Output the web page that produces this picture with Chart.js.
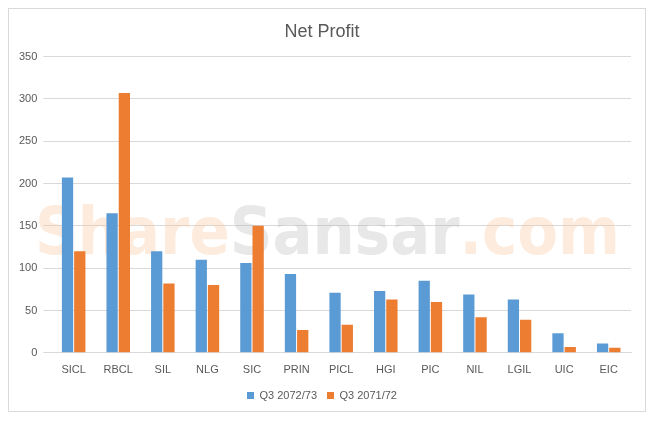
<!DOCTYPE html>
<html>
<head>
<meta charset="utf-8">
<script src="https://cdn.jsdelivr.net/npm/chart.js@4"></script>
<style>
  body { margin: 0; background: #fff; }
  #wrap { position: absolute; left: 8px; top: 8px; width: 636px; height: 402px; border: 1px solid #d9d9d9; }
</style>
</head>
<body>
<div id="wrap"><canvas id="myChart"></canvas></div>
<script>
const categories = ['SICL', 'RBCL', 'SIL', 'NLG', 'SIC', 'PRIN', 'PICL', 'HGI', 'PIC', 'NIL', 'LGIL', 'UIC', 'EIC'];
const q3_2072 = [207, 165, 120, 110, 106, 93, 71, 73, 85, 69, 63, 23, 11];
const q3_2071 = [120, 307, 82, 80, 150, 27, 33, 63, 60, 42, 39, 7, 6];

const watermark = {
    id: 'watermark',
    beforeDatasetsDraw(chart) {
        const ctx = chart.ctx;
        ctx.save();
        ctx.font = 'bold 66px "DejaVu Sans Condensed"';
        ctx.textBaseline = 'middle';
        const parts = [['Share', 'rgba(250, 200, 160, 0.35)'], ['Sansar', 'rgba(180, 180, 180, 0.3)'], ['.com', 'rgba(250, 200, 160, 0.35)']];
        let x = 26;
        parts.forEach(function (p) {
            ctx.fillStyle = p[1];
            ctx.fillText(p[0], x, 228);
            x += ctx.measureText(p[0]).width;
        });
        ctx.restore();
    }
};

new Chart(document.getElementById('myChart'), {
    type: 'bar',
    data: {
        labels: categories,
        datasets: [
            { label: 'Q3 2072/73', data: q3_2072, backgroundColor: '#5b9bd5' },
            { label: 'Q3 2071/72', data: q3_2071, backgroundColor: '#ed7d31' }
        ]
    },
    options: {
        responsive: true,
        maintainAspectRatio: false,
        animation: false,
        layout: { padding: { left: 4, right: 14, top: 4, bottom: 0 } },
        datasets: { bar: { categoryPercentage: 0.55, barPercentage: 0.92 } },
        plugins: {
            title: { display: true, text: 'Net Profit', color: '#595959', font: { size: 18, family: 'Liberation Sans', weight: 'normal' }, padding: { top: 8, bottom: 14 } },
            legend: { position: 'bottom', labels: { boxWidth: 7, boxHeight: 7, color: '#595959', font: { size: 11, family: 'Liberation Sans' } } },
            tooltip: { enabled: false }
        },
        scales: {
            x: {
                grid: { display: false },
                border: { color: '#d9d9d9' },
                ticks: { color: '#595959', font: { size: 11, family: 'Liberation Sans' } }
            },
            y: {
                min: 0, max: 350,
                ticks: { stepSize: 50, color: '#595959', padding: 6, font: { size: 11, family: 'Liberation Sans' } },
                grid: { color: '#d9d9d9' },
                border: { display: false }
            }
        }
    },
    plugins: [watermark]
});
</script>
</body>
</html>
